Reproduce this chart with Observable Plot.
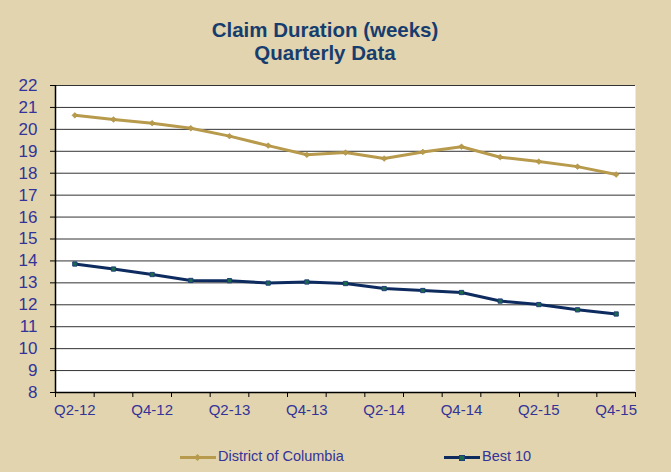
<!DOCTYPE html>
<html>
<head>
<meta charset="utf-8">
<script src="https://cdn.jsdelivr.net/npm/d3@7"></script>
<script src="https://cdn.jsdelivr.net/npm/@observablehq/plot@0.6"></script>
<style>
  html, body { margin: 0; padding: 0; }
  body { width: 671px; height: 472px; background: #E1D4AE; font-family: "Liberation Sans", Arial, sans-serif; overflow: hidden; }
  #title { box-sizing: border-box; height: 72px; padding-top: 18px; text-align: center; color: #173D6E; font-weight: bold; font-size: 20.5px; line-height: 23px; padding-right: 21px; }
  #legend { position: relative; height: 32px; color: #333399; font-size: 14.5px; }
  .item { position: absolute; top: 0; height: 32px; }
  .sample { position: absolute; top: 16px; height: 3px; width: 36px; }
  .mk { position: absolute; }
  .lbl { position: absolute; top: 8px; white-space: nowrap; }
  svg { display: block; }
</style>
</head>
<body>
<div id="title">Claim Duration (weeks)<br>Quarterly Data</div>
<div id="chart"></div>
<div id="legend"></div>
<script>
const quarters = ["Q2-12","Q3-12","Q4-12","Q1-13","Q2-13","Q3-13","Q4-13","Q1-14","Q2-14","Q3-14","Q4-14","Q1-15","Q2-15","Q3-15","Q4-15"];
const dcValues = [20.64,20.45,20.28,20.05,19.69,19.26,18.84,18.94,18.67,18.97,19.21,18.73,18.53,18.30,17.94];
const best10Values = [13.86,13.63,13.38,13.11,13.10,12.99,13.04,12.97,12.74,12.65,12.56,12.17,12.01,11.77,11.58];
const yTicks = [8,9,10,11,12,13,14,15,16,17,18,19,20,21,22];
const seriesNames = ["District of Columbia", "Best 10"];

const dcColor = "#B89A4C";
const bestColor = "#0D2B5E";
const labelColor = "#333399";

const dcData = quarters.map((q, i) => ({i, q, v: dcValues[i]}));
const bestData = quarters.map((q, i) => ({i, q, v: best10Values[i]}));
const boundaries = d3.range(quarters.length + 1).map(k => k - 0.5);
const labelIdx = d3.range(0, quarters.length, 2);

const chart = Plot.plot({
  width: 671,
  height: 368,
  marginLeft: 55,
  marginRight: 36,
  marginTop: 13,
  marginBottom: 48,
  style: {fontFamily: "'Liberation Sans', Arial, sans-serif", background: "transparent", overflow: "visible"},
  x: {domain: [-0.5, quarters.length - 0.5]},
  y: {domain: [8, 22]},
  marks: [
    Plot.frame({fill: "white", stroke: null}),
    Plot.gridY(yTicks.slice(1), {stroke: "#333", strokeOpacity: 1, strokeWidth: 1}),
    Plot.axisY(yTicks, {tickSize: 5, tickPadding: 13, fontSize: 17, fill: labelColor, stroke: "#000", label: null}),
    Plot.axisX(boundaries, {tickSize: 5, tickFormat: () => "", label: null, stroke: "#000"}),
    Plot.axisX(labelIdx, {tickSize: 0, tickPadding: 12, fontSize: 15, fill: labelColor, tickFormat: d => quarters[d], label: null}),
    Plot.ruleX([-0.5], {stroke: "#000", strokeWidth: 1.5}),
    Plot.ruleY([8], {stroke: "#000", strokeWidth: 1.5}),
    Plot.line(dcData, {x: "i", y: "v", stroke: dcColor, strokeWidth: 3}),
    Plot.dot(dcData, {x: "i", y: "v", symbol: "diamond2", fill: dcColor, stroke: "#A88A3C", strokeWidth: 0.5, r: 2.6}),
    Plot.line(bestData, {x: "i", y: "v", stroke: bestColor, strokeWidth: 3}),
    Plot.dot(bestData, {x: "i", y: "v", symbol: "square", fill: "#1D6A4B", stroke: "#1F3F78", strokeWidth: 1, r: 2.4})
  ]
});
document.getElementById("chart").appendChild(chart);

// legend
const legend = document.getElementById("legend");
const items = [
  {name: seriesNames[0], color: dcColor, left: 180, mk: "dc"},
  {name: seriesNames[1], color: bestColor, left: 444, mk: "b"}
];
for (const it of items) {
  const s = document.createElement("div");
  s.className = "sample";
  s.style.left = it.left + "px";
  s.style.background = it.color;
  legend.appendChild(s);
  const m = document.createElement("div");
  m.className = "mk";
  if (it.mk === "dc") {
    m.style.cssText = `left:${it.left + 15}px;top:14.5px;width:5px;height:5px;background:${dcColor};transform:rotate(45deg);`;
  } else {
    m.style.cssText = `left:${it.left + 15}px;top:14.5px;width:4px;height:4px;background:#1D6A4B;border:1px solid #1F3F78;`;
  }
  legend.appendChild(m);
  const t = document.createElement("div");
  t.className = "lbl";
  t.style.left = (it.left + 38) + "px";
  t.textContent = it.name;
  legend.appendChild(t);
}
</script>
</body>
</html>
